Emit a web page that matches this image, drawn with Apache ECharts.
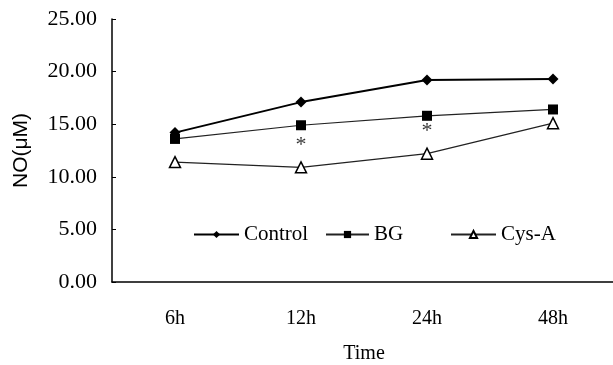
<!DOCTYPE html>
<html>
<head>
<meta charset="utf-8">
<script src="https://cdn.jsdelivr.net/npm/echarts@6/dist/echarts.min.js"></script>
<style>
html, body { margin: 0; padding: 0; background: #fff; }
#chart { width: 613px; height: 365px; }
</style>
</head>
<body>
<div id="chart"></div>
<script>
var times = ['6h', '12h', '24h', '48h'];
var controlValues = [14.2, 17.1, 19.2, 19.3];
var bgValues = [13.6, 14.9, 15.8, 16.4];
var cysValues = [11.4, 10.9, 12.2, 15.1];
// significance marks (*) under BG at 12h and 24h
var starPoints = [['12h', 13.2], ['24h', 14.5]];

var serif = 'Liberation Serif';

initLine('chart');

/* line chart */
function initLine(id) {
	var myChart = echarts.init(document.getElementById(id));
	var legendText = { fontFamily: serif, fontSize: 21, color: '#000' };
	var option = {
		animation: false,
		backgroundColor: '#fff',
		grid: {
			left: 112,
			top: 19,
			width: 504,
			bottom: 83,
			outerBoundsMode: 'none',
			containLabel: false
		},
		legend: [
			{ data: ['Control'], left: 188, top: 219, itemWidth: 45, itemHeight: 9, itemGap: 0, textStyle: legendText },
			{ data: ['BG'], left: 320, top: 219, itemWidth: 43, itemHeight: 9, itemGap: 0, textStyle: legendText },
			{ data: ['Cys-A'], left: 445, top: 219, itemWidth: 45, itemHeight: 9, itemGap: 0, textStyle: legendText }
		],
		xAxis: {
			type: 'category',
			data: times,
			name: 'Time',
			nameLocation: 'middle',
			nameGap: 62,
			nameTextStyle: { fontFamily: serif, fontSize: 20, color: '#000' },
			axisLine: { lineStyle: { color: '#000', width: 1.5 } },
			axisTick: { show: false },
			axisLabel: { fontFamily: serif, fontSize: 20, color: '#000', margin: 27 }
		},
		yAxis: {
			type: 'value',
			min: 0,
			max: 25,
			interval: 5,
			name: 'NO(μM)',
			nameLocation: 'middle',
			nameGap: 80,
			nameTextStyle: { fontFamily: 'Liberation Sans', fontSize: 21, color: '#000' },
			axisLine: { show: true, lineStyle: { color: '#000', width: 1.5 } },
			axisTick: { show: true, inside: true, length: 4, lineStyle: { color: '#000' } },
			splitLine: { show: false },
			axisLabel: {
				fontFamily: serif, fontSize: 22, color: '#000', margin: 15,
				formatter: function (v) { return v.toFixed(2); }
			}
		},
		series: [
			{
				name: 'Control', type: 'line', data: controlValues,
				symbol: 'diamond', symbolSize: 11,
				itemStyle: { color: '#000' },
				lineStyle: { color: '#000', width: 2 }
			},
			{
				name: 'BG', type: 'line', data: bgValues,
				symbol: 'rect', symbolSize: 10,
				itemStyle: { color: '#000' },
				lineStyle: { color: '#222', width: 1.2 }
			},
			{
				name: 'Cys-A', type: 'line', data: cysValues,
				symbol: 'triangle', symbolSize: 11,
				itemStyle: { color: '#fff', borderColor: '#000', borderWidth: 1.5 },
				lineStyle: { color: '#222', width: 1.2 }
			},
			{
				name: 'sig', type: 'scatter', data: starPoints,
				symbolSize: 0,
				label: {
					show: true, position: 'inside', formatter: '*',
					fontFamily: serif, fontSize: 22, color: '#000', offset: [0, 2]
				}
			}
		]
	};
	myChart.setOption(option);
}
</script>
</body>
</html>
